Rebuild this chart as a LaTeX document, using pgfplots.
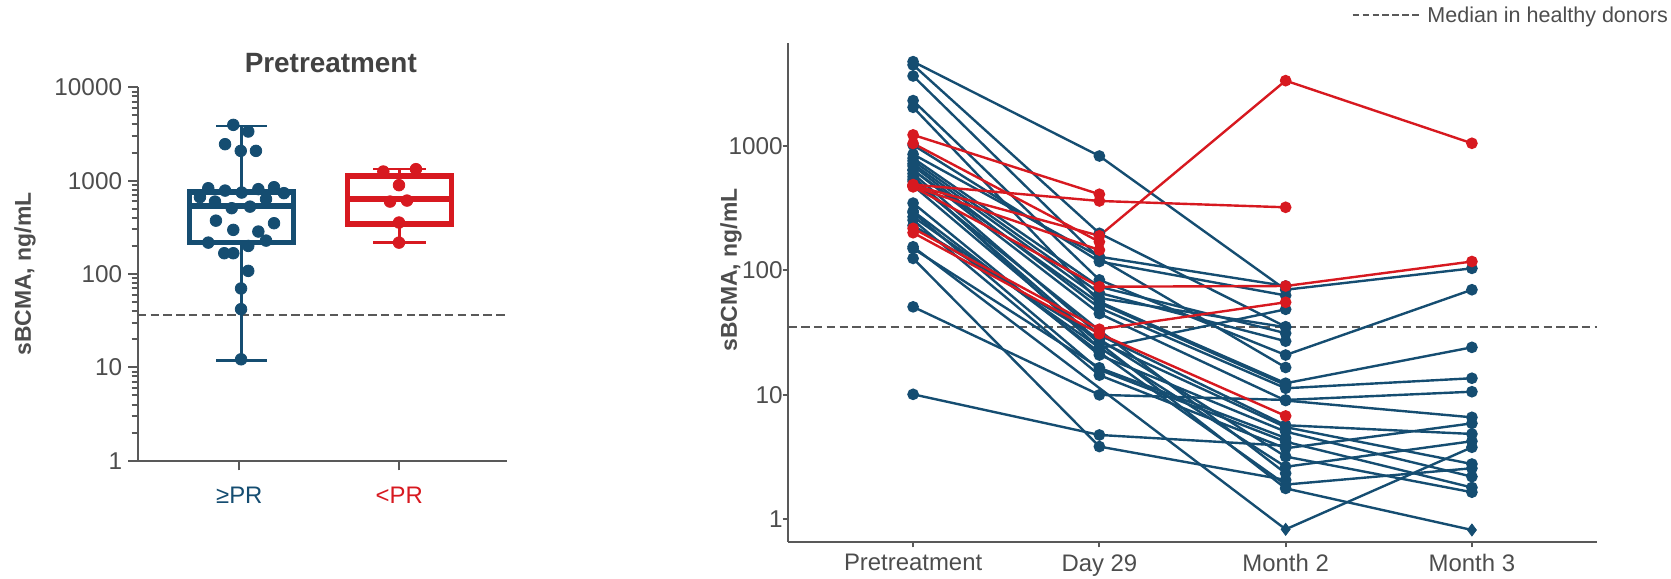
\documentclass[border=0pt]{standalone}
\usepackage{fontspec}
\setmainfont{Liberation Sans}
\usepackage{pgfplots}
\pgfplotsset{compat=1.18}
\definecolor{cblue}{RGB}{21,77,113}
\definecolor{cred}{RGB}{215,25,32}
\definecolor{cgray}{RGB}{89,89,89}
\definecolor{ctext}{RGB}{77,77,77}
\pgfplotsset{
  blueline/.style={cblue, line width=1.2bp, mark=*, mark size=2.3bp, mark options={solid, fill=cblue, draw=cblue}},
  redline/.style={cred, line width=1.2bp, mark=*, mark size=2.3bp, mark options={solid, fill=cred, draw=cred}},
}
\begin{document}
\begin{tikzpicture}
\useasboundingbox (0,0) rectangle (835.5bp,-289.5bp);

% ---------------- left panel ----------------
\begin{axis}[
  at={(68.85bp,-230.35bp)}, anchor=south west,
  scale only axis, width=184.65bp, height=186.7bp,
  ymode=log, ymin=1, ymax=10000, xmin=0.365, xmax=2.673,
  axis x line*=bottom, axis y line*=left,
  axis line style={-, cgray, line width=1bp},
  xtick={1,2}, xticklabels={{\color{cblue}≥PR},{\color{cred}<PR}},
  ytick={1,10,100,1000,10000}, yticklabels={1,10,100,1000,10000},
  yminorticks=true,
  minor ytick={2,3,4,5,6,7,8,9,20,30,40,50,60,70,80,90,200,300,400,500,600,700,800,900,2000,3000,4000,5000,6000,7000,8000,9000},
  tick align=outside, major tick length=4.8bp, minor tick length=3bp,
  every tick/.style={cgray, line width=1bp},
  tick label style={font=\fontsize{12.2}{14}\selectfont, text=ctext},
  yticklabel style={xshift=0.5bp},
  xticklabel style={font=\fontsize{12}{14}\selectfont, yshift=-5bp},
  clip=false,
]
% healthy donor median
\addplot[cgray, line width=1bp, dash pattern=on 4.2bp off 2.2bp] coordinates {(0.365,36) (2.673,36)};
% blue whiskers
\addplot[cblue, line width=1.3bp] coordinates {(1.015,11.8) (1.015,217)};
\addplot[cblue, line width=1.3bp] coordinates {(1.015,753) (1.015,3866)};
\addplot[cblue, line width=1.3bp] coordinates {(0.855,3866) (1.175,3866)};
\addplot[cblue, line width=1.3bp] coordinates {(0.855,11.8) (1.175,11.8)};
% blue box
\addplot[cblue, line width=2.7bp, line join=miter, line cap=rect] coordinates {(0.69,217) (1.34,217) (1.34,753) (0.69,753) (0.69,217)};
\addplot[cblue, line width=2.7bp] coordinates {(0.69,537) (1.34,537)};
% red whiskers
\addplot[cred, line width=1.3bp] coordinates {(2.0,217) (2.0,344)};
\addplot[cred, line width=1.3bp] coordinates {(2.0,1125) (2.0,1328)};
\addplot[cred, line width=1.3bp] coordinates {(1.8375,1328) (2.165,1328)};
\addplot[cred, line width=1.3bp] coordinates {(1.8375,217) (2.165,217)};
% red box
\addplot[cred, line width=2.7bp, line join=miter, line cap=rect] coordinates {(1.676,344) (2.326,344) (2.326,1125) (1.676,1125) (1.676,344)};
\addplot[cred, line width=2.7bp] coordinates {(1.676,634) (2.326,634)};
% dots
\addplot[only marks, mark=*, mark size=2.9bp, cblue, mark options={fill=cblue}] coordinates {
(0.9625,3960) (1.056,3360) (0.911,2460) (1.009,2085) (1.104,2085)
(0.806,830) (0.911,783) (1.015,746) (1.119,811) (1.217,851)
(0.754,665) (1.279,735) (1.167,634) (0.848,597) (0.9525,507) (1.067,527)
(0.854,373) (0.9625,297) (1.119,285) (1.217,350)
(0.806,217) (1.056,200) (1.167,228) (0.906,167) (0.9625,167)
(1.056,108) (1.011,70) (1.011,42) (1.011,12.2)
};
\addplot[only marks, mark=*, mark size=2.9bp, cred, mark options={fill=cred}] coordinates {
(1.9,1253) (2.104,1328) (1.998,895) (1.942,597) (2.048,612) (1.998,356) (1.998,217)
};
\end{axis}

% ---------------- right panel ----------------
\begin{axis}[
  at={(394.15bp,-270.85bp)}, anchor=south west,
  scale only axis, width=404.2bp, height=249.2bp,
  ymode=log, ymin=0.66, ymax=6700, xmin=-0.67, xmax=3.67,
  axis x line*=bottom, axis y line*=left,
  axis line style={-, cgray, line width=1bp},
  xtick={0,1,2,3}, xticklabels={Pretreatment, Day 29, Month 2, Month 3},
  ytick={1,10,100,1000}, yticklabels={1,10,100,1000},
  yminorticks=false,
  tick align=outside, major tick length=2.8bp,
  every tick/.style={cgray, line width=1bp},
  tick label style={font=\fontsize{12.2}{14}\selectfont, text=ctext},
  yticklabel style={xshift=3.5bp},
  xticklabel style={font=\fontsize{12}{14}\selectfont},
  clip=false,
]
\addplot[cgray, line width=1bp, dash pattern=on 4.2bp off 2.2bp] coordinates {(-0.67,35) (3.67,35)};
% blue patients
\addplot[blueline] coordinates {(0,4770) (1,832) (2,70) (3,104)};
\addplot[blueline] coordinates {(0,4490) (1,199) (2,35.3)};
\addplot[blueline] coordinates {(0,3660) (1,125) (2,16.6)};
\addplot[blueline] coordinates {(0,2320) (1,84) (2,20.9) (3,70)};
\addplot[blueline] coordinates {(0,2050) (1,56) (2,12.4) (3,24.1)};
\addplot[blueline] coordinates {(0,1020) (1,118) (2,63)};
\addplot[blueline] coordinates {(0,860) (1,129) (2,75)};
\addplot[blueline] coordinates {(0,800) (1,74) (2,31.3)};
\addplot[blueline] coordinates {(0,760) (1,66) (2,27)};
\addplot[blueline] coordinates {(0,692) (1,50) (2,11.3) (3,13.6)};
\addplot[blueline] coordinates {(0,643) (1,45) (2,9.0) (3,6.6)};
\addplot[blueline] coordinates {(0,600) (1,30.3) (2,5.7) (3,4.85)};
\addplot[blueline] coordinates {(0,568) (1,23.7) (2,48.7)};
\addplot[blueline] coordinates {(0,540) (1,26.8) (2,5.5) (3,2.78)};
\addplot[blueline] coordinates {(0,348) (1,20.9) (2,5.06) (3,2.2)};
\addplot[blueline] coordinates {(0,292) (1,15.9) (2,4.2) (3,1.8)};
\addplot[blueline] coordinates {(0,254) (1,14.4) (2,3.72) (3,5.9)};
\addplot[blueline] coordinates {(0,230) (1,28) (2,3.19) (3,1.65)};
\addplot[blueline, mark indices={1,3}] coordinates {(0,155) (2,0.83) (3,3.79)};
\addplot[blueline] coordinates {(0,125) (1,3.84) (2,2.07)};
\addplot[blueline] coordinates {(0,51) (1,10) (2,9.1) (3,10.6)};
\addplot[blueline] coordinates {(0,10.1) (1,4.76) (2,3.9)};
\addplot[blueline] coordinates {(0,270) (1,24) (2,2.64) (3,4.24)};
\addplot[blueline] coordinates {(0,300) (1,22) (2,1.9) (3,2.57)};
\addplot[blueline, mark indices={1,2,3}] coordinates {(0,480) (1,26) (2,1.77) (3,0.82)};
\addplot[blueline] coordinates {(0,720) (1,60) (2,35)};
\addplot[blueline] coordinates {(0,640) (1,54.5) (2,12)};
\addplot[blueline] coordinates {(0,520) (1,33) (2,2.34)};
\addplot[blueline] coordinates {(0,150) (1,16.5) (2,4.5)};
\addplot[only marks, mark=diamond*, mark size=3bp, cblue, mark options={fill=cblue}] coordinates {(2,0.83) (3,0.82)};
% red patients
\addplot[redline] coordinates {(0,1230) (1,410)};
\addplot[redline] coordinates {(0,1050) (1,170)};
\addplot[redline] coordinates {(0,490) (1,362) (2,322)};
\addplot[redline] coordinates {(0,485) (1,190) (2,3357) (3,1053)};
\addplot[redline] coordinates {(0,475) (1,146)};
\addplot[redline] coordinates {(0,470) (1,74) (2,75) (3,118)};
\addplot[redline] coordinates {(0,218) (1,33.7) (2,55.5)};
\addplot[redline] coordinates {(0,201) (1,31) (2,6.77)};
\end{axis}

% titles and labels
\node[anchor=base, font=\bfseries\fontsize{14}{16}\selectfont, text=ctext!85!black] at (165.4bp,-36.2bp) {Pretreatment};
\node[rotate=90, font=\bfseries\fontsize{11.5}{13}\selectfont, text=ctext] at (12.5bp,-137bp) {sBCMA, ng/mL};
\node[rotate=90, font=\bfseries\fontsize{11.5}{13}\selectfont, text=ctext] at (365.5bp,-135bp) {sBCMA, ng/mL};
% legend
\draw[cgray, line width=1bp, dash pattern=on 3.3bp off 1.65bp] (676.35bp,-7.3bp) -- (710.85bp,-7.3bp);
\node[anchor=base west, inner sep=0pt, font=\fontsize{10.8}{12}\selectfont, text=ctext] at (713.5bp,-11.2bp) {Median in healthy donors};
\end{tikzpicture}
\end{document}
